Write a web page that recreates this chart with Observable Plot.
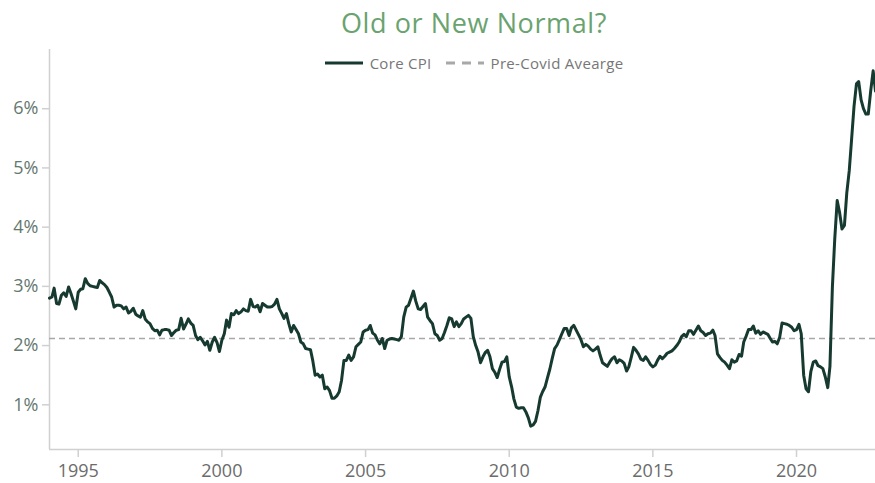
<!DOCTYPE html>
<html>
<head>
<meta charset="utf-8">
<script src="https://cdn.jsdelivr.net/npm/d3@7"></script>
<script src="https://cdn.jsdelivr.net/npm/@observablehq/plot@0.6"></script>
<style>
  html, body { margin: 0; padding: 0; background: #fff; }
  #wrap { position: relative; width: 875px; height: 483px; font-family: "Open Sans", sans-serif; }
  #title { position: absolute; left: 0; width: 948px; top: 4px; text-align: center; font-size: 27px; letter-spacing: 0.6px; color: #6aa36f; font-weight: 400; }
  #legend { position: absolute; left: 0; width: 948px; top: 50px; text-align: center; font-size: 15px; letter-spacing: 0.3px; color: #777; white-space: nowrap; }
  #legend span.item { display: inline-flex; align-items: center; margin: 0 7px; }
  #legend svg { margin-right: 7px; }
  #chart { position: absolute; left: 0; top: 0; }
</style>
</head>
<body>
<div id="wrap">
  <div id="chart"></div>
  <div id="title">Old or New Normal?</div>
  <div id="legend"></div>
</div>
<script>
// Monthly Core CPI YoY (%), Jan 1994 – Oct 2022
const startYear = 1994;
const coreCPI1994_1999 = [
  2.80, 2.82, 2.97, 2.71, 2.70, 2.85, 2.89, 2.83, 2.99, 2.88, 2.75, 2.62,
  2.90, 2.95, 2.96, 3.13, 3.05, 3.01, 3.00, 2.99, 2.98, 3.10, 3.06, 3.03,
  2.98, 2.90, 2.82, 2.65, 2.68, 2.68, 2.67, 2.62, 2.65, 2.55, 2.58, 2.63,
  2.53, 2.50, 2.48, 2.59, 2.45, 2.40, 2.37, 2.29, 2.25, 2.26, 2.18, 2.26,
  2.27, 2.27, 2.26, 2.17, 2.22, 2.26, 2.27, 2.46, 2.28, 2.36, 2.45, 2.38,
  2.34, 2.17, 2.10, 2.14, 2.08, 2.01, 2.07, 1.92, 2.06, 2.14, 2.05, 1.90
];
const coreCPI2000_2009 = [
  2.09, 2.20, 2.43, 2.31, 2.54, 2.52, 2.59, 2.54, 2.57, 2.62, 2.59, 2.58,
  2.78, 2.66, 2.65, 2.68, 2.57, 2.71, 2.68, 2.65, 2.65, 2.66, 2.70, 2.78,
  2.62, 2.54, 2.46, 2.54, 2.37, 2.23, 2.34, 2.27, 2.20, 2.06, 2.03, 1.95,
  1.94, 1.93, 1.75, 1.50, 1.52, 1.47, 1.50, 1.27, 1.30, 1.24, 1.11, 1.11,
  1.15, 1.22, 1.41, 1.75, 1.75, 1.84, 1.75, 1.81, 1.98, 2.02, 2.06, 2.23,
  2.26, 2.27, 2.34, 2.21, 2.18, 2.09, 2.03, 2.12, 1.95, 2.09, 2.11, 2.12,
  2.11, 2.10, 2.09, 2.15, 2.48, 2.65, 2.68, 2.80, 2.92, 2.75, 2.62, 2.61,
  2.66, 2.71, 2.48, 2.42, 2.37, 2.20, 2.17, 2.09, 2.12, 2.22, 2.34, 2.47,
  2.45, 2.32, 2.40, 2.32, 2.37, 2.45, 2.48, 2.51, 2.46, 2.15, 2.00, 1.89,
  1.71, 1.81, 1.88, 1.92, 1.81, 1.61, 1.55, 1.46, 1.60, 1.72, 1.73, 1.81
];
const coreCPI2010_2019 = [
  1.47, 1.30, 1.10, 0.96, 0.94, 0.95, 0.95, 0.88, 0.78, 0.64, 0.66, 0.72,
  0.90, 1.13, 1.22, 1.30, 1.45, 1.60, 1.78, 1.95, 2.01, 2.10, 2.20, 2.29,
  2.29, 2.17, 2.30, 2.34, 2.26, 2.18, 2.10, 1.98, 2.02, 1.99, 1.94, 1.91,
  1.94, 1.98, 1.84, 1.71, 1.68, 1.65, 1.72, 1.78, 1.81, 1.71, 1.76, 1.74,
  1.70, 1.57, 1.64, 1.80, 1.97, 1.92, 1.86, 1.77, 1.75, 1.81, 1.75, 1.68,
  1.64, 1.67, 1.75, 1.82, 1.78, 1.82, 1.87, 1.89, 1.91, 1.95, 2.00, 2.06,
  2.15, 2.19, 2.15, 2.25, 2.25, 2.19, 2.26, 2.33, 2.25, 2.22, 2.17, 2.20,
  2.21, 2.26, 2.17, 1.86, 1.80, 1.75, 1.72, 1.67, 1.61, 1.76, 1.72, 1.74,
  1.85, 1.82, 2.06, 2.16, 2.27, 2.27, 2.33, 2.21, 2.25, 2.19, 2.23, 2.21,
  2.19, 2.12, 2.06, 2.07, 2.03, 2.14, 2.38, 2.37, 2.36, 2.34, 2.31, 2.25
];
const coreCPI2020_2022 = [
  2.27, 2.36, 2.20, 1.50, 1.27, 1.22, 1.56, 1.72, 1.74, 1.66, 1.64, 1.61,
  1.47, 1.29, 1.65, 2.99, 3.80, 4.45, 4.25, 3.97, 4.03, 4.58, 4.95, 5.48,
  6.04, 6.42, 6.46, 6.15, 6.00, 5.91, 5.91, 6.30, 6.64, 6.30
];
const preCovidAverage = 2.12;
const yTicks = [1, 2, 3, 4, 5, 6];
const xTickYears = [1995, 2000, 2005, 2010, 2015, 2020];
const seriesNames = ["Core CPI", "Pre-Covid Avearge"];

const values = [...coreCPI1994_1999, ...coreCPI2000_2009, ...coreCPI2010_2019, ...coreCPI2020_2022];
const data = values.map((v, i) => ({date: new Date(Date.UTC(startYear + Math.floor(i / 12), i % 12, 1)), value: v}));

const lineColor = "#163a30";
const avgColor = "#a8a8a8";
const axisColor = "#d0d0d0";

const xDomain = [data[0].date, data[data.length - 1].date];
const yDomain = [0.245, 7.0];

const chart = Plot.plot({
  width: 875,
  height: 483,
  marginTop: 49,
  marginBottom: 34,
  marginLeft: 49,
  marginRight: 0,
  style: {fontFamily: "'Open Sans', sans-serif", background: "#fff", overflow: "visible"},
  x: {type: "utc", domain: xDomain},
  y: {domain: yDomain},
  marks: [
    Plot.ruleX([xDomain[0]], {stroke: axisColor, strokeWidth: 1.5}),
    Plot.ruleY([yDomain[0]], {stroke: axisColor, strokeWidth: 1.5}),
    Plot.axisY(yTicks, {
      tickFormat: d => d + "%",
      tickSize: 7,
      tickPadding: 4,
      stroke: axisColor,
      strokeWidth: 1.5,
      fill: "#64786f",
      fontSize: 18,
      label: null
    }),
    Plot.axisX(xTickYears.map(y => new Date(Date.UTC(y, 0, 1))), {
      tickFormat: d => String(d.getUTCFullYear()),
      tickSize: 8,
      tickPadding: 7,
      stroke: axisColor,
      strokeWidth: 1.5,
      fill: "#6b6b6b",
      fontSize: 18,
      label: null
    }),
    Plot.ruleY([preCovidAverage], {stroke: avgColor, strokeWidth: 1.5, strokeDasharray: "6,4"}),
    Plot.line(data, {x: "date", y: "value", stroke: lineColor, strokeWidth: 3, strokeLinejoin: "round"})
  ]
});
document.getElementById("chart").appendChild(chart);

const legend = document.getElementById("legend");
legend.innerHTML =
  `<span class="item"><svg width="38" height="6"><line x1="0" y1="3" x2="38" y2="3" stroke="${lineColor}" stroke-width="3"/></svg>${seriesNames[0]}</span>` +
  `<span class="item"><svg width="38" height="6"><line x1="0" y1="3" x2="38" y2="3" stroke="${avgColor}" stroke-width="3" stroke-dasharray="9,7"/></svg>${seriesNames[1]}</span>`;
</script>
</body>
</html>
